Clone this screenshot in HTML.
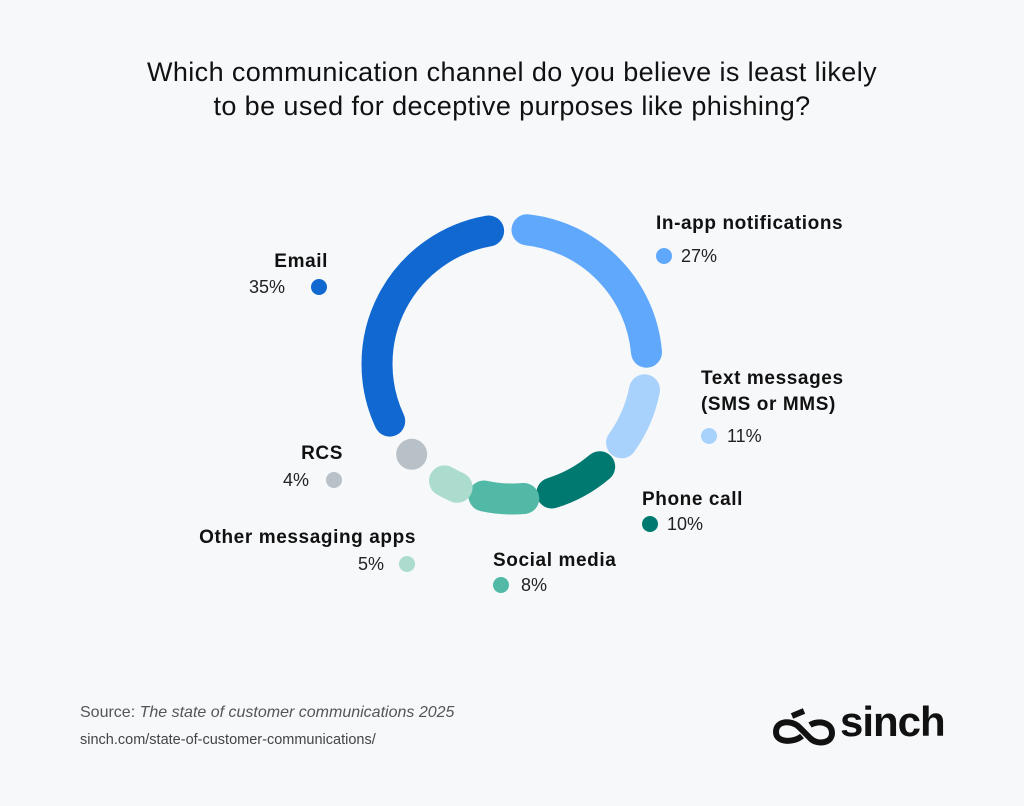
<!DOCTYPE html>
<html><head><meta charset="utf-8"><style>
body{margin:0;background:#f6f8fa;}
.w{position:relative;width:1024px;height:806px;background:#f6f8fa;font-family:"Liberation Sans",sans-serif;color:#1a1a1a;overflow:hidden}
.t{position:absolute;left:0;width:1024px;top:55px;text-align:center;font-size:27px;line-height:34px;color:#111;letter-spacing:0.4px}
.l{position:absolute;font-weight:bold;font-size:19px;color:#111;letter-spacing:0.6px;white-space:nowrap}
.r{text-align:right}
.p{position:absolute;font-size:18px;color:#222}
.d{position:absolute;width:16px;height:16px;border-radius:50%}
</style></head><body><div class="w">
<div class="t">Which communication channel do you believe is least likely<br>to be used for deceptive purposes like phishing?</div>
<svg width="1024" height="806" style="position:absolute;left:0;top:0" fill="none" stroke-width="31" stroke-linecap="round">
<path d="M389.7 421.1 A135 135 0 0 1 488.6 231" stroke="#1068d0"/>
<path d="M527 229.8 A135 135 0 0 1 646.5 352.2" stroke="#60a8fc"/>
<path d="M644.5 389.8 A135 135 0 0 1 621.6 442.8" stroke="#a8d2fc"/>
<path d="M599.7 466.7 A135 135 0 0 1 551.9 493" stroke="#007a70"/>
<path d="M523.8 498.5 A135 135 0 0 1 483.9 496" stroke="#52b9a6"/>
<path d="M457.1 487.3 A135 135 0 0 1 444.5 480.9" stroke="#acdccd"/>
<circle cx="411.7" cy="454.3" r="15.5" fill="#b8c0c8" stroke="none"/>
</svg>
<div class="l r" style="right:696px;top:251px">Email</div>
<div class="p" style="left:249px;top:277px">35%</div><div class="d" style="left:311px;top:279px;background:#1068d0"></div>
<div class="l" style="left:656px;top:213px">In-app notifications</div>
<div class="d" style="left:656px;top:248px;background:#60a8fc"></div><div class="p" style="left:681px;top:246px">27%</div>
<div class="l" style="left:701px;top:368px">Text messages</div>
<div class="l" style="left:701px;top:394px">(SMS or MMS)</div>
<div class="d" style="left:701px;top:428px;background:#a8d2fc"></div><div class="p" style="left:727px;top:426px">11%</div>
<div class="l" style="left:642px;top:489px">Phone call</div>
<div class="d" style="left:642px;top:516px;background:#007a70"></div><div class="p" style="left:667px;top:514px">10%</div>
<div class="l" style="left:493px;top:550px">Social media</div>
<div class="d" style="left:493px;top:577px;background:#52b9a6"></div><div class="p" style="left:521px;top:575px">8%</div>
<div class="l r" style="right:681px;top:443px">RCS</div>
<div class="p" style="left:283px;top:470px">4%</div><div class="d" style="left:326px;top:472px;background:#b8c0c8"></div>
<div class="l r" style="right:608px;top:527px">Other messaging apps</div>
<div class="p" style="left:358px;top:554px">5%</div><div class="d" style="left:399px;top:556px;background:#acdccd"></div>
<div style="position:absolute;left:80px;top:704px;font-size:16px;color:#555">Source: <i>The state of customer communications 2025</i></div>
<div style="position:absolute;left:80px;top:732px;font-size:14.5px;color:#444">sinch.com/state-of-customer-communications/</div>
<svg width="70" height="44" style="position:absolute;left:768px;top:706px" fill="none" stroke="#111" stroke-width="6">
<path d="M34 30 C26 37 8 37 8 26 C8 14 24 14 31 21 L42 32 C48 39 64 38 64 27 C64 16 50 14 42 19"/>
<path d="M24 10 L36 5"/>
</svg>
<div style="position:absolute;left:840px;top:698px;font-size:42px;font-weight:bold;color:#111;letter-spacing:-1px">sinch</div>
</div></body></html>
